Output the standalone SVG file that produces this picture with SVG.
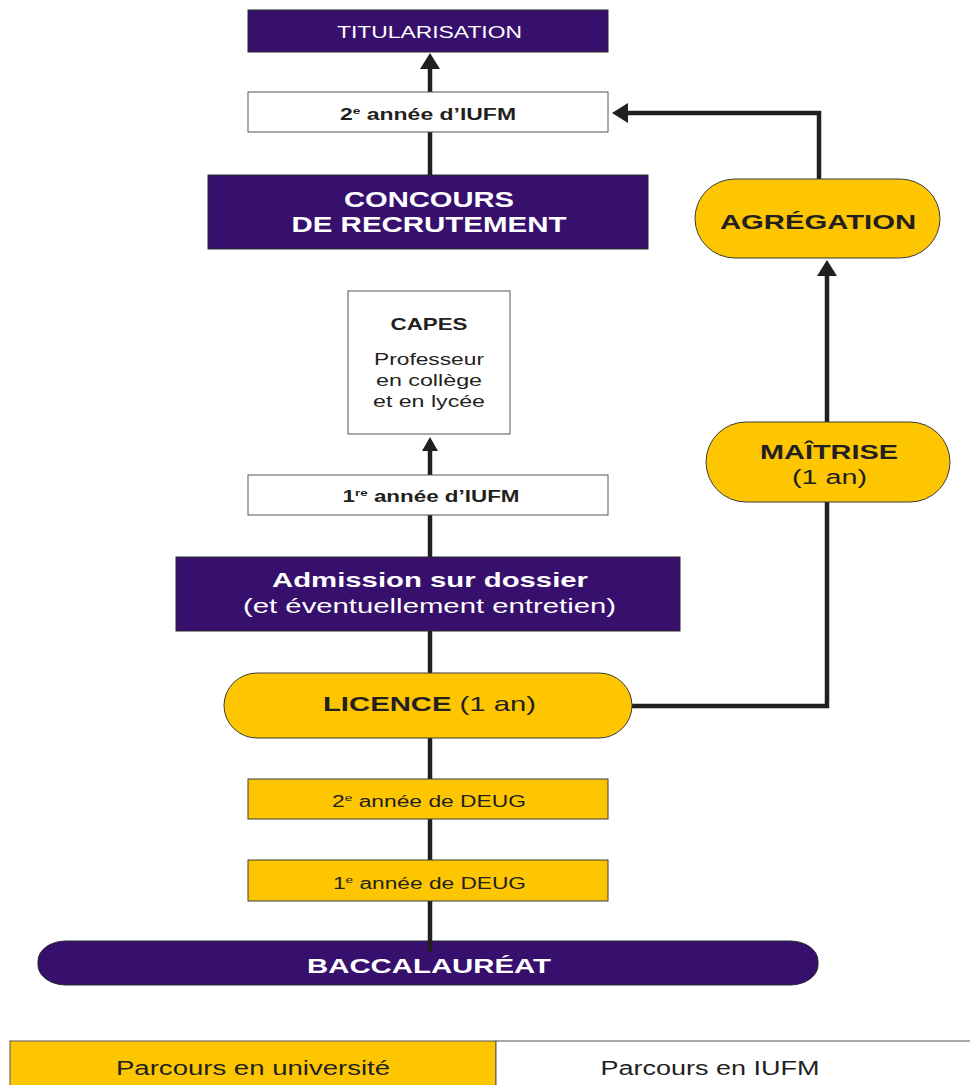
<svg xmlns="http://www.w3.org/2000/svg" width="970" height="1085" viewBox="0 0 970 1085">
<style>
text{font-family:"Liberation Sans",Arial,sans-serif;text-anchor:middle}
.pur{fill:#37106e;stroke:#2a2a2a;stroke-width:1}
.yel{fill:#fdc600;stroke:#3a3a3a;stroke-width:1}
.wht{fill:#fff;stroke:#555;stroke-width:1}
.tw{fill:#fff}
.tk{fill:#231f20}
.b{font-weight:bold}
.ln{fill:none;stroke:#231f20;stroke-width:4.5}
.sup{font-size:60%}
</style>
<defs>
<marker id="ah" markerUnits="userSpaceOnUse" viewBox="0 0 16 20" markerWidth="16" markerHeight="20" refX="1" refY="10" orient="auto">
<path d="M0,0 L16,10 L0,20 z" fill="#231f20"/>
</marker>
<marker id="ahs" markerUnits="userSpaceOnUse" viewBox="0 0 14 16" markerWidth="14" markerHeight="16" refX="1" refY="8" orient="auto">
<path d="M0,0 L14,8 L0,16 z" fill="#231f20"/>
</marker>
</defs>
<g id="legend">
<rect x="10" y="1041" width="486" height="50" fill="#fdc600" stroke="#555" stroke-width="1"/>
<rect x="496" y="1041" width="480" height="50" fill="#fff" stroke="#555" stroke-width="1"/>
<text x="253" y="1075" class="tk" font-size="20" textLength="274" lengthAdjust="spacingAndGlyphs">Parcours en université</text>
<text x="710" y="1075" class="tk" font-size="20" textLength="219" lengthAdjust="spacingAndGlyphs">Parcours en IUFM</text>
</g>
<g id="bac">
<rect x="38" y="941" width="780" height="44" rx="28" ry="20" class="pur"/>
</g>
<g id="connectors">
<path class="ln" d="M430,92 V68" marker-end="url(#ah)"/>
<path class="ln" d="M430,175 V132"/>
<path class="ln" d="M430,475 V450" marker-end="url(#ahs)"/>
<path class="ln" d="M430,557 V515"/>
<path class="ln" d="M430,673 V631"/>
<path class="ln" d="M430,779 V738"/>
<path class="ln" d="M430,860 V819"/>
<path class="ln" d="M430,952 V901"/>
<path class="ln" d="M632,706 H827 V502"/>
<path class="ln" d="M827,422 V275" marker-end="url(#ah)"/>
<path class="ln" d="M819,179 V113 H627" marker-end="url(#ah)"/>
</g>
<text x="429" y="973" class="tw b" font-size="21" textLength="244" lengthAdjust="spacingAndGlyphs">BACCALAURÉAT</text>
<g id="titularisation">
<rect x="248" y="10" width="360" height="42" class="pur"/>
<text x="429.5" y="38" class="tw" font-size="17" textLength="185" lengthAdjust="spacingAndGlyphs">TITULARISATION</text>
</g>
<g id="iufm2">
<rect x="248" y="92" width="360" height="40" class="wht"/>
<text x="428" y="120" class="tk b" font-size="16" textLength="176" lengthAdjust="spacingAndGlyphs">2<tspan class="sup" dy="-6">e</tspan><tspan dy="6"> année d’IUFM</tspan></text>
</g>
<g id="concours">
<rect x="208" y="175" width="440" height="74" class="pur"/>
<text x="429" y="207" class="tw b" font-size="22" textLength="170" lengthAdjust="spacingAndGlyphs">CONCOURS</text>
<text x="429" y="232" class="tw b" font-size="22" textLength="275" lengthAdjust="spacingAndGlyphs">DE RECRUTEMENT</text>
</g>
<g id="capes">
<rect x="348" y="291" width="162" height="143" class="wht"/>
<text x="429" y="330" class="tk b" font-size="17" textLength="77" lengthAdjust="spacingAndGlyphs">CAPES</text>
<text x="429" y="365" class="tk" font-size="16" textLength="110" lengthAdjust="spacingAndGlyphs">Professeur</text>
<text x="429" y="386" class="tk" font-size="16" textLength="106" lengthAdjust="spacingAndGlyphs">en collège</text>
<text x="429" y="407" class="tk" font-size="16" textLength="112" lengthAdjust="spacingAndGlyphs">et en lycée</text>
</g>
<g id="iufm1">
<rect x="248" y="475" width="360" height="40" class="wht"/>
<text x="431" y="502" class="tk b" font-size="16" textLength="177" lengthAdjust="spacingAndGlyphs">1<tspan class="sup" dy="-6">re</tspan><tspan dy="6"> année d’IUFM</tspan></text>
</g>
<g id="admission">
<rect x="176" y="557" width="504" height="74" class="pur"/>
<text x="430" y="587" class="tw b" font-size="21" textLength="316" lengthAdjust="spacingAndGlyphs">Admission sur dossier</text>
<text x="429.5" y="613" class="tw" font-size="20" textLength="373" lengthAdjust="spacingAndGlyphs">(et éventuellement entretien)</text>
</g>
<g id="licence">
<rect x="224" y="673" width="408" height="65" rx="33" ry="32.5" class="yel"/>
<text x="429.5" y="711" class="tk" font-size="21" textLength="213" lengthAdjust="spacingAndGlyphs"><tspan class="b">LICENCE</tspan> (1 an)</text>
</g>
<g id="deug2">
<rect x="248" y="779" width="360" height="40" class="yel"/>
<text x="429" y="807" class="tk" font-size="16" textLength="194" lengthAdjust="spacingAndGlyphs">2<tspan class="sup" dy="-6">e</tspan><tspan dy="6"> année de DEUG</tspan></text>
</g>
<g id="deug1">
<rect x="248" y="860" width="360" height="41" class="yel"/>
<text x="429.5" y="889" class="tk" font-size="16" textLength="193" lengthAdjust="spacingAndGlyphs">1<tspan class="sup" dy="-6">e</tspan><tspan dy="6"> année de DEUG</tspan></text>
</g>
<g id="maitrise">
<rect x="706" y="422" width="244" height="80" rx="40" ry="40" class="yel"/>
<text x="829" y="459" class="tk b" font-size="21" textLength="138" lengthAdjust="spacingAndGlyphs">MAÎTRISE</text>
<text x="829.5" y="484" class="tk" font-size="20" textLength="75" lengthAdjust="spacingAndGlyphs">(1 an)</text>
</g>
<g id="agregation">
<rect x="695" y="179" width="245" height="79" rx="40" ry="39.5" class="yel"/>
<text x="818" y="229" class="tk b" font-size="21" textLength="196" lengthAdjust="spacingAndGlyphs">AGRÉGATION</text>
</g>
</svg>
